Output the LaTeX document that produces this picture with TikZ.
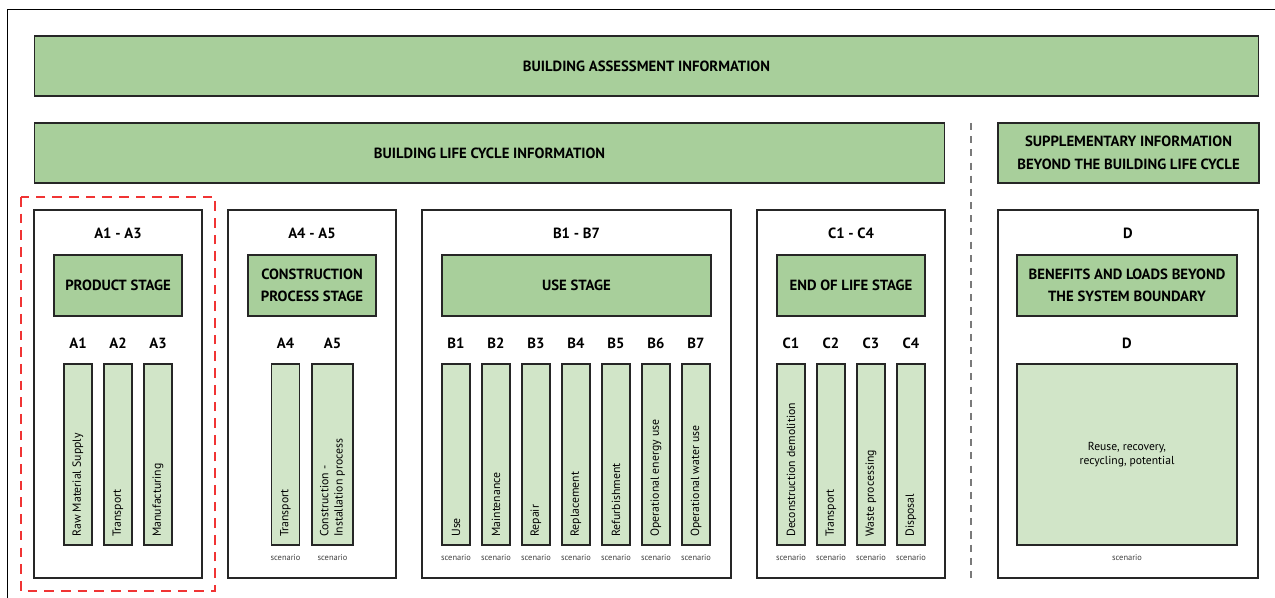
\documentclass[tikz,border=0pt]{standalone}
\usepackage{fontspec}
\setmainfont{PT Sans}
\definecolor{stagegreen}{HTML}{A8CF9B}
\definecolor{bargreen}{HTML}{D1E5C8}
\definecolor{edgegray}{HTML}{262626}
\definecolor{markred}{HTML}{F03434}
\definecolor{splitgray}{HTML}{7A7A7A}

\begin{document}
\begin{tikzpicture}[x=0.02cm,y=-0.02cm,
  box/.style={draw=edgegray,line width=0.65pt,inner sep=0pt},
  heading/.style={box,fill=stagegreen,align=center,font=\bfseries\fontsize{8.4}{12.8}\selectfont},
  module/.style={box,minimum height=7.36cm},
  stage/.style={heading,minimum height=1.22cm},
  code/.style={inner sep=0pt,font=\bfseries\fontsize{8.4}{10}\selectfont},
  bar/.style={box,fill=bargreen,minimum width=0.56cm,minimum height=3.62cm},
  bartext/.style={rotate=90,anchor=west,inner sep=0pt,align=left,font=\fontsize{6.7}{8}\selectfont},
  scen/.style={inner sep=0pt,font=\fontsize{4.8}{5.5}\selectfont,text=black!75}]
\useasboundingbox (0,0) rectangle (1275,598);

% frame
\draw[line width=0.7pt] (7.5,598) -- (7.5,9.5) -- (1275,9.5);

% information bands
\node[heading,minimum width=24.5cm,minimum height=1.2cm] (assess) at (646.5,66) {BUILDING ASSESSMENT INFORMATION};
\node[heading,minimum width=18.22cm,minimum height=1.2cm] (cycle) at (489.5,153) {BUILDING LIFE CYCLE INFORMATION};
\node[heading,minimum width=5.22cm,minimum height=1.2cm] (suppl) at (1128.5,153) {SUPPLEMENTARY INFORMATION\\BEYOND THE BUILDING LIFE CYCLE};

\draw[splitgray,line width=0.6pt,dash pattern=on 4pt off 3.5pt] (971,123) -- (971,578);

% modules
\node[module,minimum width=3.36cm] (modA) at (118,394) {};
\node[module,minimum width=3.36cm] (modAA) at (312,394) {};
\node[module,minimum width=6.18cm] (modB) at (576.5,394) {};
\node[module,minimum width=3.76cm] (modC) at (851,394) {};
\node[module,minimum width=5.2cm] (modD) at (1128,394) {};

\node[code] (titA) at (118,233) {A1 - A3};
\node[code] (titAA) at (312,233) {A4 - A5};
\node[code] (titB) at (576.5,233) {B1 - B7};
\node[code] (titC) at (851,233) {C1 - C4};
\node[code] (titD) at (1128,233) {D};

\node[stage,minimum width=2.56cm] (product) at (118,285.5) {PRODUCT STAGE};
\node[stage,minimum width=2.56cm] (construct) at (312,285.5) {CONSTRUCTION\\PROCESS STAGE};
\node[stage,minimum width=5.38cm] (use) at (576.5,285.5) {USE STAGE};
\node[stage,minimum width=2.96cm] (eol) at (851,285.5) {END OF LIFE STAGE};
\node[stage,minimum width=4.4cm] (benefit) at (1127,285.5) {BENEFITS AND LOADS BEYOND\\THE SYSTEM BOUNDARY};

% product stage
\foreach \n/\x/\t in {1/78/Raw Material Supply,2/118/Transport,3/158/Manufacturing}{
  \node[code] (a\n lab) at (\x,343) {A\n};
  \node[bar] (a\n) at (\x,454.5) {};
  \node[bartext] (a\n txt) at (\x,537) {\t};
}

% construction stage
\node[code] (a4lab) at (285.5,343) {A4};
\node[bar] (a4) at (285.5,454.5) {};
\node[bartext] (a4txt) at (285.5,537) {Transport};
\node[scen] (a4scen) at (285.5,558) {scenario};
\node[code] (a5lab) at (332.5,343) {A5};
\node[bar,minimum width=0.82cm] (a5) at (332.5,454.5) {};
\node[bartext] (a5txt) at (332.5,537) {Construction -\\Installation process};
\node[scen] (a5scen) at (332.5,558) {scenario};

% use stage
\foreach \n/\x/\t in {1/456/Use,2/496/Maintenance,3/536/Repair,4/576/Replacement,
    5/616/Refurbishment,6/656/Operational energy use,7/696/Operational water use}{
  \node[code] (b\n lab) at (\x,343) {B\n};
  \node[bar] (b\n) at (\x,454.5) {};
  \node[bartext] (b\n txt) at (\x,537) {\t};
  \node[scen] (b\n scen) at (\x,558) {scenario};
}

% end of life stage
\foreach \n/\x/\t in {1/791/Deconstruction demolition,2/831/Transport,3/871/Waste processing,4/911/Disposal}{
  \node[code] (c\n lab) at (\x,343) {C\n};
  \node[bar] (c\n) at (\x,454.5) {};
  \node[bartext] (c\n txt) at (\x,537) {\t};
  \node[scen] (c\n scen) at (\x,558) {scenario};
}

% beyond the system boundary
\node[code] (dlab) at (1127,343) {D};
\node[bar,minimum width=4.4cm,align=center,font=\fontsize{6.6}{8}\selectfont] (d) at (1127,454.5) {Reuse, recovery,\\recycling, potential};
\node[scen] (dscen) at (1127,558) {scenario};

% product stage marker
\draw[markred,line width=1.4pt,dash pattern=on 5.5pt off 4pt] (21,197) rectangle (215,591);
\end{tikzpicture}
\end{document}
